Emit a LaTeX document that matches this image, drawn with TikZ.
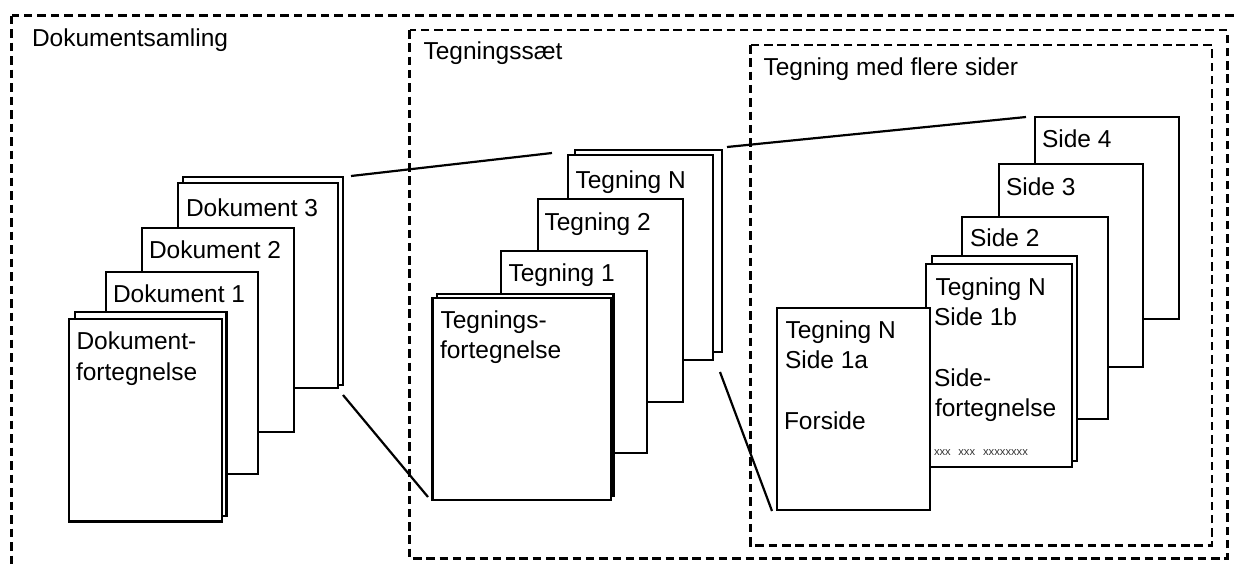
\documentclass[tikz,border=0pt]{standalone}
\usepackage{fontspec}
\setmainfont{Liberation Sans}
\tikzset{
  x=1pt,y=-1pt,
  sheet/.style={draw=black,fill=white,line width=2.4pt,anchor=north west,inner sep=0pt,outer sep=0pt,line join=miter},
  lbl/.style={anchor=base west,inner sep=0pt,outer sep=0pt,font=\fontsize{24.5pt}{24.5pt}\selectfont,text=black},
  tiny/.style={anchor=base west,inner sep=0pt,outer sep=0pt,font=\fontsize{11.2pt}{11.2pt}\selectfont,text=black!80},
  outerbox/.style={draw=black,line width=3pt,dash pattern=on 8.5pt off 5pt},
  midbox/.style={draw=black,line width=2.7pt,dash pattern=on 8.5pt off 4.8pt},
  zoomline/.style={draw=black,line width=2.2pt},
}
\newcommand{\sht}[6][]{\node[sheet,minimum width=#5pt-#3pt,minimum height=#6pt-#4pt,#1] (#2) at (#3,#4) {};}
\begin{document}
\begin{tikzpicture}
\useasboundingbox (0,0) rectangle (1239,568);
\clip (0,0) rectangle (1239,568);
\fill[white] (0,0) rectangle (1239,568);
% dashed frames
\coordinate (oa) at (11.5,15.5); \coordinate (ob) at (1246,580);
\draw[outerbox] (oa) rectangle (ob);
\coordinate (ma) at (409.5,30); \coordinate (mb) at (1227.5,558.5);
\draw[midbox] (ma) rectangle (mb);
\coordinate (ia) at (750.5,45); \coordinate (ib) at (1212,545.5);
\draw[midbox] (ia) rectangle (ib);
% frame titles
\node[lbl] (tdoc) at (32,46.5) {Dokumentsamling};
\node[lbl] (tset) at (423.5,59.5) {Tegningssæt};
\node[lbl] (tmul) at (763.5,75) {Tegning med flere sider};
% document stack
\sht{dback}{183}{177}{343}{385}
\sht{dthree}{178}{183}{338}{388}
\sht{dtwo}{142}{228}{294}{432}
\sht{done}{106}{272}{258}{474}
\sht{dlistb}{75}{312}{226.5}{516}
\sht{dlist}{69}{319}{222}{521.5}
\node[lbl] (ld3) at (186,216) {Dokument 3};
\node[lbl] (ld2) at (149,258) {Dokument 2};
\node[lbl] (ld1) at (113,302) {Dokument 1};
\node[lbl] (ldl1) at (76.5,349) {Dokument-};
\node[lbl] (ldl2) at (76,380) {fortegnelse};
% drawing set stack
\sht{tback}{575}{150}{722}{352}
\sht{tn}{568}{155}{713}{360}
\sht{ttwo}{538}{199}{683}{402}
\sht{tone}{501}{251}{647}{453}
\sht{tlistb}{437}{294}{613.5}{496}
\sht{tlist}{432.5}{298}{611}{500}
\node[lbl] (ltn) at (575.5,188) {Tegning N};
\node[lbl] (lt2) at (544.5,230) {Tegning 2};
\node[lbl] (lt1) at (508.5,281) {Tegning 1};
\node[lbl] (ltl1) at (440.5,328) {Tegnings-};
\node[lbl] (ltl2) at (440,358) {fortegnelse};
% page stack
\sht{sfour}{1035}{117}{1179}{319}
\sht{sthree}{999}{164}{1143}{367}
\sht{stwo}{962}{217}{1108}{419}
\sht{sbback}{932}{256}{1077}{461}
\sht{sb}{926}{264}{1072}{467}
\sht{sa}{777}{308}{930}{510}
\node[lbl] (ls4) at (1042,147) {Side 4};
\node[lbl] (ls3) at (1006,195) {Side 3};
\node[lbl] (ls2) at (970,246) {Side 2};
\node[lbl] (lb1) at (935.5,295) {Tegning N};
\node[lbl] (lb2) at (934,325) {Side 1b};
\node[lbl] (lb3) at (934,386) {Side-};
\node[lbl] (lb4) at (935,416) {fortegnelse};
\node[tiny] (lb5) at (934,455.5) {xxx\hspace{7.5pt}xxx\hspace{8pt}xxxxxxxx};
\node[lbl] (la1) at (785.5,338) {Tegning N};
\node[lbl] (la2) at (785,368) {Side 1a};
\node[lbl] (la3) at (784,429) {Forside};
% zoom lines
\coordinate (za) at (351,176); \coordinate (zb) at (552,153);
\coordinate (zc) at (343,395); \coordinate (zd) at (428,497);
\coordinate (ze) at (727,147); \coordinate (zf) at (1026,117);
\coordinate (zg) at (720,372); \coordinate (zh) at (772,511);
\draw[zoomline] (za) -- (zb);
\draw[zoomline] (zc) -- (zd);
\draw[zoomline] (ze) -- (zf);
\draw[zoomline] (zg) -- (zh);
\end{tikzpicture}
\end{document}
